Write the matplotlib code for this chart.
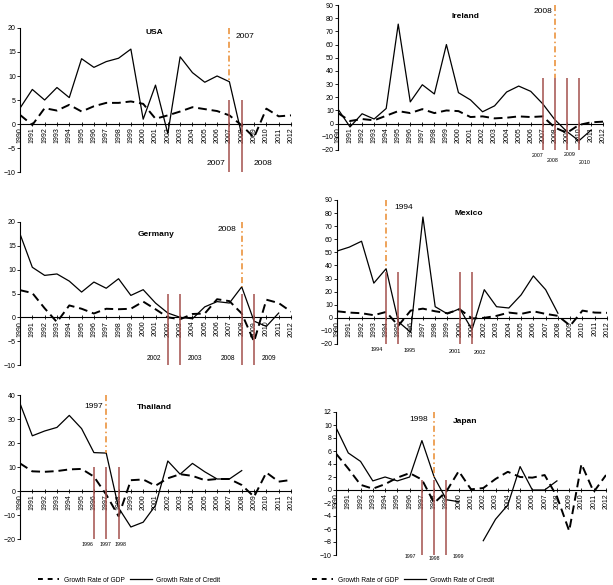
import numpy as np
import matplotlib
matplotlib.use('Agg')
import matplotlib.pyplot as plt
from matplotlib.lines import Line2D

plt.rcParams['font.family'] = ['Liberation Sans', 'DejaVu Sans']

years = np.arange(1990, 2013)
nan = np.nan

# growth rates (percent)
usa_gdp = [1.9, -0.2, 3.3, 2.8, 4.0, 2.6, 3.7, 4.4, 4.4, 4.7, 4.2, 1.1, 1.8, 2.6, 3.5, 3.1, 2.7, 1.8, -0.3, -2.8, 3.2, 1.6, 1.8]
usa_credit = [3.3, 7.2, 5.0, 7.6, 5.5, 13.6, 11.8, 13.0, 13.7, 15.6, 1.0, 8.1, -2.0, 14.0, 10.7, 8.7, 10.0, 8.8, -2.3, nan, nan, nan, nan]

ire_gdp = [8, 2, 3.5, 2.5, 6, 9.5, 8, 11, 8, 10, 9.5, 5, 5.5, 4, 4.5, 5.5, 5, 5.5, -3, -7, -1, 1, 1.5]
ire_credit = [11, -2.5, 7.5, 3.5, 11.5, 75.5, 16.5, 29.5, 22.5, 60, 23.5, 18, 9, 13.5, 24, 28.5, 24.5, 15, 3, -6, -13, -5, nan]

ger_gdp = [5.7, 5.1, 1.9, -1.0, 2.5, 1.8, 0.8, 1.8, 1.7, 1.8, 3.3, 1.7, 0.0, -0.4, 0.7, 0.8, 3.8, 3.4, 0.8, -5.1, 3.7, 3.0, 1.2]
ger_credit = [17.5, 10.5, 8.8, 9.1, 7.6, 5.3, 7.4, 6.1, 8.1, 4.6, 5.8, 3.0, 0.9, 0.0, -0.3, 2.2, 3.3, 3.0, 6.4, -0.8, -1.9, 0.9, nan]

mex_gdp = [5, 4, 3.5, 2, 4.5, -6, 5.5, 7, 5, 3.5, 6.5, -0.5, 0, 1.5, 4, 3, 5, 3, 1.5, -6, 5.5, 4, 3.8]
mex_credit = [51, 54, 58.5, 26.5, 37.5, -3, -11, 77, 8.5, 3, 7, -9, 21.5, 8.5, 7.5, 17.5, 32, 21.5, 3.5, nan, nan, nan, nan]

tha_gdp = [11.5, 8.2, 8, 8.3, 9, 9.2, 6, -1.5, -10.5, 4.5, 4.8, 2.2, 5.3, 7, 6.3, 4.5, 5, 5, 2.5, -2.4, 7.7, 3.9, 4.6]
tha_credit = [36.5, 23, 25, 26.5, 31.5, 26, 16, 15.8, -7, -15, -13, -6, 12.5, 7, 11.5, 8, 5, 5, 8.5, nan, nan, nan, nan]

jap_gdp = [5.6, 3.3, 0.8, 0.2, 0.9, 1.9, 2.6, 1.6, -2.0, -0.2, 2.9, 0.1, 0.3, 1.7, 2.8, 2.0, 1.9, 2.3, -1.0, -6.3, 4.0, -0.3, 2.3]
jap_credit = [9.6, 5.7, 4.4, 1.4, 2.0, 1.4, 2.0, 7.6, 2.0, -1.5, -1.8, nan, -7.8, -4.5, -2.3, 3.6, 0, 0, 1.4, nan, nan, nan, nan]

# crisis markers
usa_start, usa_marks = 2007, [2007, 2008]
ire_start, ire_marks = 2008, [2007, 2008, 2009, 2010]
ger_start, ger_marks = 2008, [2002, 2003, 2008, 2009]
mex_start, mex_marks = 1994, [1994, 1995, 2000, 2001]
tha_start, tha_marks = 1997, [1996, 1997, 1998]
jap_start, jap_marks = 1998, [1997, 1998, 1999]

ORANGE = '#e98a2e'
BROWN = '#a3504c'

fig = plt.figure(figsize=(6.13, 5.85), dpi=100)


def px_axes(x0, x1, ytop, ybot):
    return fig.add_axes([x0 / 613, 1 - ybot / 585, (x1 - x0) / 613, (ybot - ytop) / 585])


def panel(ax, gdp, credit, ylim, ystep, name, name_xy, start, start_top, start_end,
          start_lab, marks, mark_top, mark_labels):
    ax.plot(years, gdp, color='black', lw=1.4, dashes=(4.5, 2.5))
    ax.plot(years, credit, color='black', lw=0.9)
    ax.set_xlim(1990, 2012)
    ax.set_ylim(*ylim)
    ax.set_yticks(np.arange(ylim[0], ylim[1] + 0.1, ystep))
    ax.set_xticks(years)
    ax.set_xticklabels([str(y) for y in years])
    for s in ['top', 'right']:
        ax.spines[s].set_visible(False)
    ax.spines['bottom'].set_position(('data', 0))
    ax.spines['left'].set_linewidth(0.8)
    ax.spines['bottom'].set_linewidth(0.8)
    ax.tick_params(axis='both', labelsize=5, length=2, width=0.6, pad=1)
    ax.tick_params(axis='x', direction='inout', length=3, labelrotation=90)
    ax.patch.set_alpha(0)

    ax.vlines(marks, ylim[0], mark_top, color=BROWN, lw=1.1, zorder=3)
    ax.plot([start, start], [start_top, start_end], color=ORANGE, lw=1.1,
            dashes=(4, 2, 1, 2), zorder=4)
    sx, sy, sha = start_lab
    ax.text(sx, sy, str(start), fontsize=6, ha=sha, va='center')
    ax.text(name_xy[0], name_xy[1], name, fontsize=6, fontweight='bold',
            ha='center', va='center')
    for lab, lx, ly, fs in mark_labels:
        ax.text(lx, ly, lab, fontsize=fs, ha='center', va='center', clip_on=False)


ax = px_axes(20, 291, 28, 172)
panel(ax, usa_gdp, usa_credit, (-10, 20), 5, 'USA', (2000.9, 19), usa_start, 20, 8.8,
      (2007.5, 18.3, 'left'), usa_marks, 5,
      [('2007', 2005.9, -8.3, 6), ('2008', 2009.7, -8.3, 6)])

ax = px_axes(338, 603, 5, 150)
panel(ax, ire_gdp, ire_credit, (-20, 90), 10, 'Ireland', (2000.6, 81.4), ire_start, 90, 35,
      (2007.8, 85, 'right'), ire_marks, 35,
      [('2007', 2006.6, -24.3, 3.8), ('2008', 2007.8, -28, 3.8),
       ('2009', 2009.2, -23.5, 3.8), ('2010', 2010.5, -29.6, 3.8)])

ax = px_axes(20, 291, 222, 365)
panel(ax, ger_gdp, ger_credit, (-10, 20), 5, 'Germany', (2001.0, 17.3), ger_start, 20, 6.4,
      (2007.6, 18.4, 'right'), ger_marks, 5,
      [('2002', 2000.9, -8.6, 4.8), ('2003', 2004.2, -8.6, 4.8),
       ('2008', 2006.9, -8.6, 4.8), ('2009', 2010.2, -8.6, 4.8)])

ax = px_axes(337, 607, 200, 344)
panel(ax, mex_gdp, mex_credit, (-20, 90), 10, 'Mexico', (2000.7, 79.7), mex_start, 90, 37.5,
      (1994.65, 84, 'left'), mex_marks, 35,
      [('1994', 1993.25, -24.5, 4), ('1995', 1995.9, -25, 4),
       ('2001', 1999.6, -26, 4), ('2002', 2001.65, -26.5, 4)])

ax = px_axes(20, 291, 395, 539)
panel(ax, tha_gdp, tha_credit, (-20, 40), 10, 'Thailand', (2000.9, 34.7), tha_start, 40, 15.8,
      (1996.7, 35.4, 'right'), tha_marks, 10,
      [('1996', 1995.5, -22.5, 3.8), ('1997', 1996.9, -22.5, 3.8),
       ('1998', 1998.2, -22.5, 3.8)])

ax = px_axes(336, 606, 412, 555)
panel(ax, jap_gdp, jap_credit, (-10, 12), 2, 'Japan', (2000.5, 10.5), jap_start, 12, 2.0,
      (1997.5, 10.9, 'right'), jap_marks, 1.5,
      [('1997', 1996.1, -10.3, 3.7), ('1998', 1998.0, -10.5, 3.7),
       ('1999', 1999.95, -10.3, 3.7)])

handles = [Line2D([], [], color='black', lw=1.4, dashes=(2.5, 2.5)),
           Line2D([], [], color='black', lw=0.9)]
labels = ['Growth Rate of GDP', 'Growth Rate of Credit']
for cx in [129 / 613, 403 / 613]:
    fig.legend(handles, labels, loc='center', bbox_to_anchor=(cx, 1 - 580 / 585),
               ncol=2, frameon=False, fontsize=4.8, handlelength=3.2, columnspacing=0.9,
               handletextpad=0.7)

fig.savefig('out.png', dpi=100)
